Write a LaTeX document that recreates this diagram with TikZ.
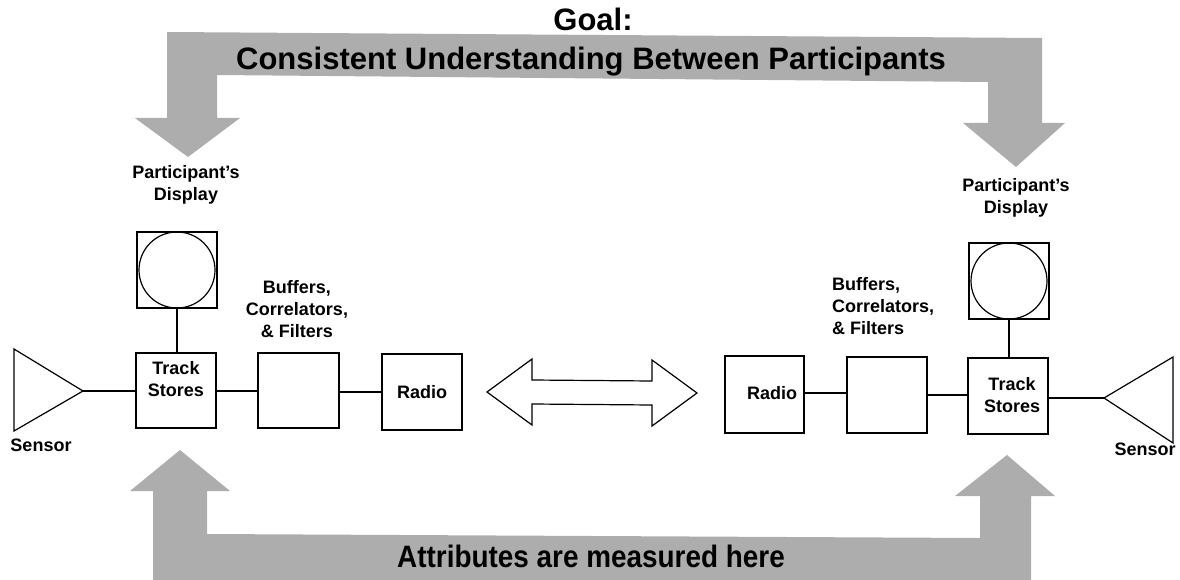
\documentclass[tikz,border=0pt]{standalone}
\usepackage{fontspec}
\usepackage{graphicx}
\setmainfont{Liberation Sans}
\begin{document}
\begin{tikzpicture}[x=1pt,y=-1pt,
  box/.style={draw=black,line width=1.2pt},
  wire/.style={draw=black,line width=1.1pt},
  band/.style={fill=black!32,draw=none},
  lbl/.style={font=\fontsize{18}{22}\selectfont\bfseries,inner sep=0pt},
  big/.style={font=\fontsize{31}{36}\selectfont\bfseries,inner sep=0pt,anchor=base}]
\useasboundingbox (0,0) rectangle (1180,580);
% top gray arrow
\fill[band] (167,32) -- (1042,38) -- (1042,123) -- (1065,123) -- (1016,167) -- (963,123)
  -- (988,123) -- (988,82) -- (217,75) -- (217,118) -- (240,118) -- (188,157)
  -- (135,118) -- (167,118) -- cycle;
% bottom gray arrow
\fill[band] (153,580) -- (153,491) -- (130,491) -- (180,450) -- (230,491) -- (207,491)
  -- (207,534) -- (980,538) -- (980,496) -- (955,496) -- (1007,455) -- (1055,496)
  -- (1031,496) -- (1031,580) -- cycle;
\node[big] (goal) at (593,31) {Goal:};
\node[big] (goaltext) at (591,70) {Consistent Understanding Between Participants};
\node[big] (attr) at (591,567) {\scalebox{0.9}[1]{Attributes are measured here}};
% left chain
\coordinate (sLa) at (14,349);
\coordinate (sLb) at (14,431);
\coordinate (sLt) at (83,391);
\draw[box,line join=miter] (sLa) -- (sLt) -- (sLb) -- cycle;
\node[box,minimum width=80pt,minimum height=75pt,inner sep=0pt] (trackL) at (176,390.5) {};
\node[box,minimum width=81pt,minimum height=75pt,inner sep=0pt] (bufL) at (298.5,390.5) {};
\node[box,minimum width=80pt,minimum height=76pt,inner sep=0pt] (radioL) at (422,392) {};
\node[box,minimum width=80pt,minimum height=76pt,inner sep=0pt] (dispL) at (177,270) {};
\draw[box] (dispL.center) circle (38);
\draw[wire] (sLt) -- (trackL.west |- sLt);
\draw[wire] (trackL.east |- 0,391) -- (bufL.west |- 0,391);
\draw[wire] (bufL.east |- 0,392) -- (radioL.west |- 0,392);
\draw[wire] (dispL.south) -- (dispL.south |- trackL.north);
\node[lbl,align=center] (tsL) at (176,379) {Track\\Stores};
\node[lbl] (rdL) at (422,392) {Radio};
\node[lbl,align=center] (bfL) at (297,309) {Buffers,\\Correlators,\\\& Filters};
\node[lbl,align=center] (pdL) at (186,185) {Participant's\\Display};
\node[lbl] (snL) at (41,445) {Sensor};
% right chain
\coordinate (sRa) at (1173,357);
\coordinate (sRb) at (1173,443);
\coordinate (sRt) at (1104,398);
\draw[box,line join=miter] (sRa) -- (sRt) -- (sRb) -- cycle;
\node[box,minimum width=79pt,minimum height=77pt,inner sep=0pt] (radioR) at (764.5,394.5) {};
\node[box,minimum width=80pt,minimum height=76pt,inner sep=0pt] (bufR) at (887,395) {};
\node[box,minimum width=80pt,minimum height=76pt,inner sep=0pt] (trackR) at (1008,396) {};
\node[box,minimum width=80pt,minimum height=76pt,inner sep=0pt] (dispR) at (1009,281) {};
\draw[box] (dispR.center) circle (38);
\draw[wire] (radioR.east |- 0,393) -- (bufR.west |- 0,393);
\draw[wire] (bufR.east |- 0,395) -- (trackR.west |- 0,395);
\draw[wire] (trackR.east |- sRt) -- (sRt);
\draw[wire] (dispR.south) -- (dispR.south |- trackR.north);
\node[lbl,align=center] (tsR) at (1012,395) {Track\\Stores};
\node[lbl] (rdR) at (772,393) {Radio};
\node[lbl,align=left,anchor=west] (bfR) at (832,306) {Buffers,\\Correlators,\\\& Filters};
\node[lbl,align=center] (pdR) at (1016,198) {Participant's\\Display};
\node[lbl] (snR) at (1145,449) {Sensor};
% double arrow between radios
\draw[box,fill=white,line join=miter] (487,392) -- (532,359) -- (532,380) -- (652,381)
  -- (652,360) -- (697,393) -- (652,426) -- (652,405) -- (532,404) -- (532,425) -- cycle;
\end{tikzpicture}
\end{document}
